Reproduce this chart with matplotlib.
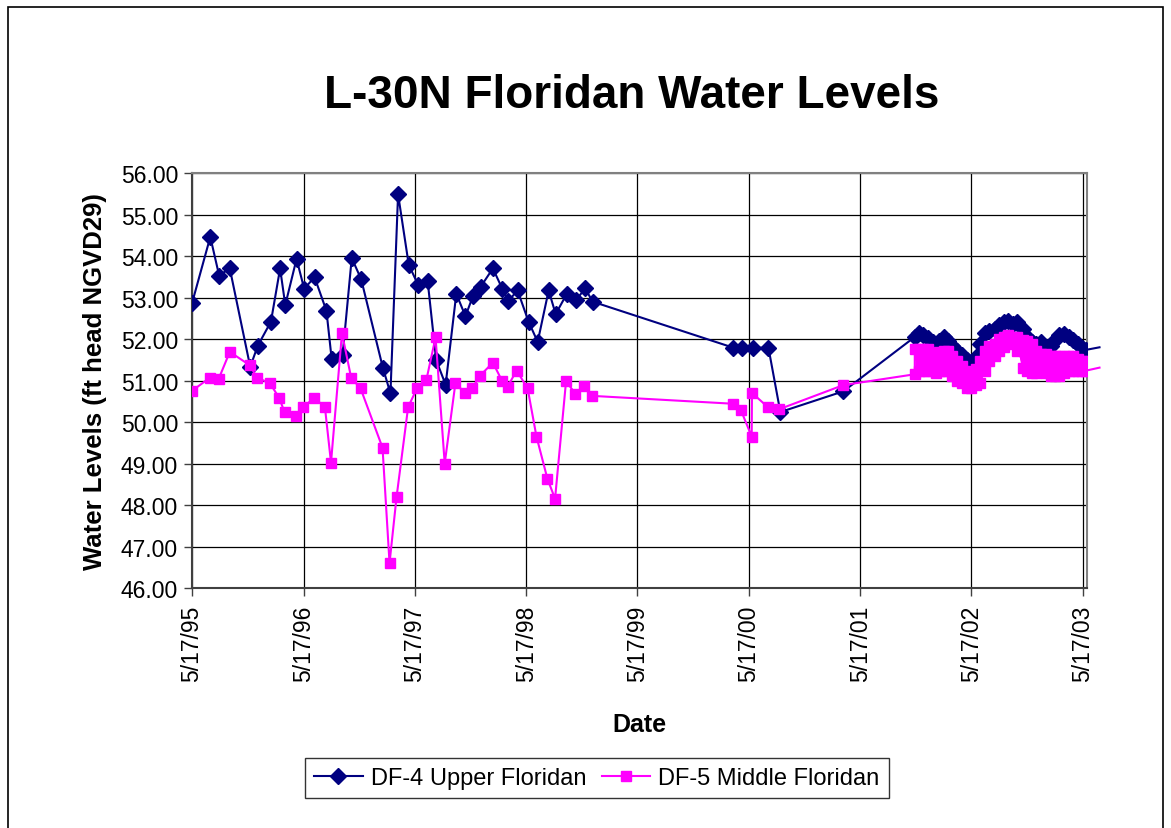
import matplotlib
matplotlib.use("Agg")
import matplotlib.pyplot as plt
from matplotlib.patches import Rectangle
import pandas as pd

plt.rcParams['font.family'] = ['Liberation Sans', 'DejaVu Sans']

# DF-4 Upper Floridan, sparse readings 1995-2001
df4_dates = ["1995-05-17", "1995-07-16", "1995-08-14", "1995-09-18", "1995-11-24", "1995-12-19",
             "1996-01-31", "1996-03-01", "1996-03-18", "1996-04-24", "1996-05-19", "1996-06-22",
             "1996-07-31", "1996-08-17", "1996-09-22", "1996-10-22", "1996-11-22", "1997-02-01",
             "1997-02-26", "1997-03-23", "1997-04-27", "1997-05-28", "1997-06-28", "1997-07-26",
             "1997-08-26", "1997-09-30", "1997-10-30", "1997-11-24", "1997-12-19", "1998-01-28",
             "1998-02-28", "1998-03-20", "1998-04-19", "1998-05-25", "1998-06-24", "1998-07-30",
             "1998-08-22", "1998-09-27", "1998-10-28", "1998-11-27", "1998-12-21", "2000-03-27",
             "2000-04-23", "2000-05-29", "2000-07-20", "2000-08-28", "2001-03-23"]
df4_values = [52.86, 54.46, 53.53, 53.70, 51.33, 51.84,
              52.42, 53.70, 52.82, 53.93, 53.21, 53.49,
              52.68, 51.53, 51.61, 53.95, 53.44, 51.31,
              50.69, 55.49, 53.79, 53.30, 53.40, 51.49,
              50.90, 53.09, 52.55, 53.04, 53.26, 53.70,
              53.21, 52.92, 53.17, 52.42, 51.93, 53.17,
              52.60, 53.08, 52.94, 53.22, 52.90, 51.79,
              51.79, 51.79, 51.79, 50.24, 50.74]

# DF-5 Middle Floridan, sparse readings 1995-2001
df5_dates = ["1995-05-17", "1995-07-15", "1995-08-12", "1995-09-18", "1995-11-22", "1995-12-17",
             "1996-01-28", "1996-02-27", "1996-03-16", "1996-04-21", "1996-05-16", "1996-06-21",
             "1996-07-26", "1996-08-15", "1996-09-20", "1996-10-20", "1996-11-20", "1997-01-31",
             "1997-02-23", "1997-03-18", "1997-04-25", "1997-05-24", "1997-06-24", "1997-07-24",
             "1997-08-23", "1997-09-27", "1997-10-29", "1997-11-21", "1997-12-16", "1998-01-28",
             "1998-02-28", "1998-03-17", "1998-04-16", "1998-05-22", "1998-06-20", "1998-07-26",
             "1998-08-20", "1998-09-25", "1998-10-26", "1998-11-24", "1998-12-19", "2000-03-26",
             "2000-04-21", "2000-05-26", "2000-05-27", "2000-07-18", "2000-08-25", "2001-03-23"]
df5_values = [50.75, 51.07, 51.03, 51.69, 51.37, 51.07,
              50.93, 50.58, 50.23, 50.14, 50.36, 50.58,
              50.36, 49.02, 52.14, 51.07, 50.81, 49.38,
              46.60, 48.19, 50.36, 50.81, 51.02, 52.04,
              49.00, 50.93, 50.70, 50.81, 51.11, 51.43,
              50.98, 50.85, 51.24, 50.81, 49.65, 48.63,
              48.15, 50.98, 50.68, 50.86, 50.63, 50.44,
              50.28, 49.65, 50.70, 50.36, 50.31, 50.89]

# continuous logger period (Nov 2001 - May 2003)
dense_dates = ["2001-11-12", "2001-11-25", "2001-12-10", "2001-12-25", "2002-01-10", "2002-01-20",
               "2002-02-01", "2002-02-15", "2002-03-01", "2002-03-15", "2002-04-01", "2002-04-15",
               "2002-05-01", "2002-05-17", "2002-06-01", "2002-06-15", "2002-07-01", "2002-07-15",
               "2002-08-01", "2002-08-15", "2002-09-01", "2002-09-15", "2002-10-01", "2002-10-15",
               "2002-11-01", "2002-11-15", "2002-12-01", "2002-12-15", "2003-01-01", "2003-01-15",
               "2003-02-01", "2003-02-15", "2003-03-01", "2003-03-15", "2003-04-01", "2003-04-15",
               "2003-05-01", "2003-05-15", "2003-05-29"]
df4_dense = [52.05, 52.15, 52.09, 52.03, 51.93, 51.88, 51.95, 52.05, 51.95, 51.83,
             51.71, 51.62, 51.50, 51.42, 51.57, 51.88, 52.15, 52.20, 52.24, 52.34,
             52.41, 52.43, 52.36, 52.41, 52.24, 52.05, 51.93, 51.88, 51.93, 51.81,
             51.83, 51.98, 52.10, 52.12, 52.05, 51.98, 51.88, 51.79, 51.74]
df5_dense_hi = [51.77, 51.77, 51.77, 51.75, 51.65, 51.60, 51.68, 51.72, 51.70, 51.60,
                51.46, 51.34, 51.22, 51.12, 51.27, 51.46, 51.72, 51.82, 51.89, 51.99,
                52.06, 52.09, 52.06, 52.04, 51.97, 51.94, 51.89, 51.72, 51.65, 51.63,
                51.60, 51.58, 51.60, 51.60, 51.60, 51.58, 51.51, 51.48, 51.46]
df5_dense_lo = [51.15, 51.24, 51.22, 51.22, 51.22, 51.19, 51.24, 51.22, 51.22, 51.12,
                51.00, 50.93, 50.81, 50.81, 50.88, 50.95, 51.24, 51.46, 51.60, 51.70,
                51.80, 51.92, 51.89, 51.70, 51.31, 51.22, 51.19, 51.19, 51.22, 51.17,
                51.10, 51.10, 51.12, 51.17, 51.22, 51.24, 51.24, 51.24, 51.24]

# next readings after the axis end (line runs off the plot)
tail_date = "2003-07-11"
df4_tail = 51.80
df5_tail = 51.31

x_start, x_end = "1995-05-17", "2003-05-31"
tick_dates = ["1995-05-17", "1996-05-17", "1997-05-17", "1998-05-17", "1999-05-17",
              "2000-05-17", "2001-05-17", "2002-05-17", "2003-05-17"]

NAVY = "#000080"
MAGENTA = "#FF00FF"

# build series
d4 = pd.to_datetime(df4_dates + dense_dates)
v4 = df4_values + df4_dense
dd = pd.to_datetime(dense_dates)
d5 = list(pd.to_datetime(df5_dates))
v5 = list(df5_values)
for d, lo, hi in zip(dd, df5_dense_lo, df5_dense_hi):
    d5 += [d, d]
    v5 += [lo, hi]

fig = plt.figure(figsize=(11.71, 8.29), dpi=100)
ax = fig.add_axes([192 / 1171, 1 - 589 / 829, (1087 - 192) / 1171, (589 - 174) / 829])

# outer chart border
fig.patches.append(Rectangle((8 / 1171, -0.05), (1163 - 8) / 1171, 1.05 - 8 / 829,
                             transform=fig.transFigure, fill=False, edgecolor="black", lw=1.2))

ax.plot(d4, v4, color=NAVY, lw=1.5, marker="D", ms=8.5, mfc=NAVY, mec=NAVY, zorder=3)
ax.fill_between(dd, df5_dense_lo, df5_dense_hi, color=MAGENTA, lw=0, zorder=3.9)
ax.plot(d5, v5, color=MAGENTA, lw=1.5, marker="s", ms=7.5, mfc=MAGENTA, mec=MAGENTA, zorder=4)

# tails running past the right edge of the plot
ax.plot(pd.to_datetime([dense_dates[-1], tail_date]), [df4_dense[-1], df4_tail],
        color=NAVY, lw=1.5, clip_on=False, zorder=3)
ax.plot(pd.to_datetime([dense_dates[-1], tail_date]), [df5_dense_lo[-1], df5_tail],
        color=MAGENTA, lw=1.5, clip_on=False, zorder=4)

ax.set_xlim(pd.Timestamp(x_start), pd.Timestamp(x_end))
ax.set_ylim(46, 56)
ax.set_yticks(range(46, 57))
ax.yaxis.set_major_formatter(plt.FuncFormatter(lambda v, p: f"{v:.2f}"))
ticks = pd.to_datetime(tick_dates)
ax.set_xticks(ticks)
ax.set_xticklabels([f"{t.month}/{t.day}/{t.strftime('%y')}" for t in ticks], rotation=90)

ax.grid(True, color="black", lw=0.9)
ax.set_axisbelow(True)
for s in ax.spines.values():
    s.set_color("#808080")
    s.set_linewidth(1.5)
ax.spines["left"].set_color("#404040")
ax.spines["bottom"].set_color("#404040")
ax.tick_params(axis="both", labelsize=16.5, length=6, width=1, color="#404040")
ax.tick_params(axis="y", pad=4)
ax.tick_params(axis="x", pad=6)

ax.set_ylabel("Water Levels (ft head NGVD29)", fontsize=18.5, fontweight="bold", labelpad=10)
ax.set_xlabel("Date", fontsize=18, fontweight="bold", labelpad=22)
fig.text(632 / 1171, 1 - 96 / 829, "L-30N Floridan Water Levels", fontsize=33,
         fontweight="bold", ha="center", va="center")

h1 = plt.Line2D([], [], color=NAVY, lw=1.5, marker="D", ms=8.5)
h2 = plt.Line2D([], [], color=MAGENTA, lw=1.5, marker="s", ms=7.5)
leg = fig.legend([h1, h2], ["DF-4 Upper Floridan", "DF-5 Middle Floridan"],
                 loc="center", bbox_to_anchor=(597 / 1171, 1 - 779 / 829), ncol=2,
                 fontsize=17, frameon=True, fancybox=False, handlelength=2.05,
                 columnspacing=0.65, handletextpad=0.35, borderpad=0.4, borderaxespad=0)
leg.get_frame().set_edgecolor("black")
leg.get_frame().set_linewidth(1.0)

fig.savefig("out.png", dpi=100)
